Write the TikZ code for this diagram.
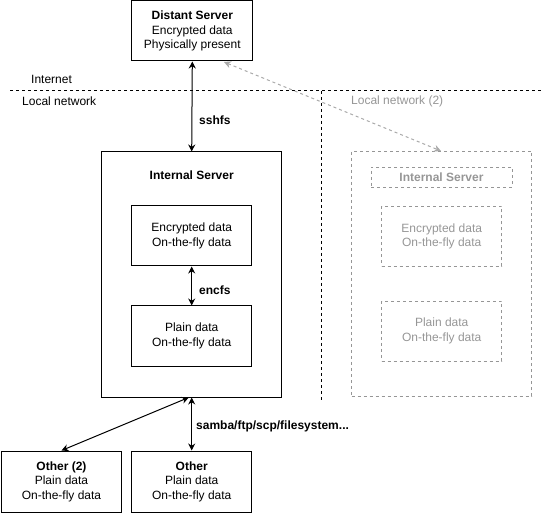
\documentclass[tikz,border=0pt]{standalone}
\usepackage{fontspec}
\setmainfont{Liberation Sans}
\usetikzlibrary{arrows.meta,calc}
\definecolor{ghost}{RGB}{150,150,150}
\definecolor{ghostarrow}{RGB}{170,170,170}
\begin{document}
\begin{tikzpicture}[x=1pt,y=-1pt,
  font=\fontsize{12}{14.5}\selectfont,
  box/.style={draw=black,line width=1pt,rectangle,inner sep=0pt,align=center,minimum width=120pt,minimum height=60pt},
  gbox/.style={draw=ghost,line width=0.8pt,dash pattern=on 3pt off 3pt,rectangle,inner sep=0pt,align=center,minimum width=120pt,minimum height=60pt,text=ghost},
  lbl/.style={inner sep=0pt,anchor=west},
  sep/.style={draw=black,line width=1pt,dash pattern=on 3pt off 3pt},
  biarrow/.style={line width=1pt,{Stealth[length=7pt,width=7pt]}-{Stealth[length=7pt,width=7pt]}},
  garrow/.style={draw=ghostarrow,line width=1pt,dash pattern=on 3pt off 3pt,{Stealth[length=7pt,width=7pt]}-{Stealth[length=7pt,width=7pt]}}
]
\useasboundingbox (0,0) rectangle (544,513);

% separators
\coordinate (hl) at (10,91);
\coordinate (hr) at (544,91);
\coordinate (vt) at (321.7,91);
\coordinate (vb) at (321.7,401);
\draw[sep] (hl) -- (hr);
\draw[sep] (vt) -- (vb);

\node[lbl] (internet) at (31,79) {Internet};
\node[lbl] (lan) at (22,101) {Local network};
\node[lbl,text=ghost] (lan2) at (351,101) {Local network (2)};

% distant server
\node[box,minimum width=121pt] (ds) at (192.3,31) {\textbf{Distant Server}\\Encrypted data\\Physically present};

% internal server
\node[box,minimum width=180pt,minimum height=245pt] (is) at (191.7,274.5) {};
\node[inner sep=0pt] (isl) at (191.7,175) {\textbf{Internal Server}};
\node[box] (enc) at (191.7,236) {Encrypted data\\On-the-fly data};
\node[box] (pl) at (191.7,336) {Plain data\\On-the-fly data};

% ghost internal server
\node[gbox,minimum width=180pt,minimum height=245pt] (is2) at (441.7,273.5) {};
\node[gbox,minimum width=141pt,minimum height=20pt] (isl2) at (441.5,177) {\textbf{Internal Server}};
\node[gbox] (enc2) at (441.7,236.5) {Encrypted data\\On-the-fly data};
\node[gbox] (pl2) at (441.7,331) {Plain data\\On-the-fly data};

% others
\node[box,minimum height=61pt] (o2) at (61.5,481.5) {\textbf{Other (2)}\\Plain data\\On-the-fly data};
\node[box,minimum height=61pt] (o) at (191.7,481.5) {\textbf{Other}\\Plain data\\On-the-fly data};

% connectors
\draw[biarrow] (ds.south) -- (is.north);
\node[lbl] (sshfs) at (199,120) {\textbf{sshfs}};
\draw[biarrow] (enc.south) -- (pl.north);
\node[lbl] (encfs) at (199,290) {\textbf{encfs}};
\draw[biarrow] (is.south) -- (o.north);
\node[lbl] (samba) at (196,426) {\textbf{samba/ftp/scp/filesystem...}};
\coordinate (isb) at ($(is.south)+(-3,0)$);
\draw[biarrow] (o2.north) -- (isb);
\coordinate (g1) at (224,62);
\coordinate (g2) at (441,151);
\draw[garrow] (g1) -- (g2);
\end{tikzpicture}
\end{document}
